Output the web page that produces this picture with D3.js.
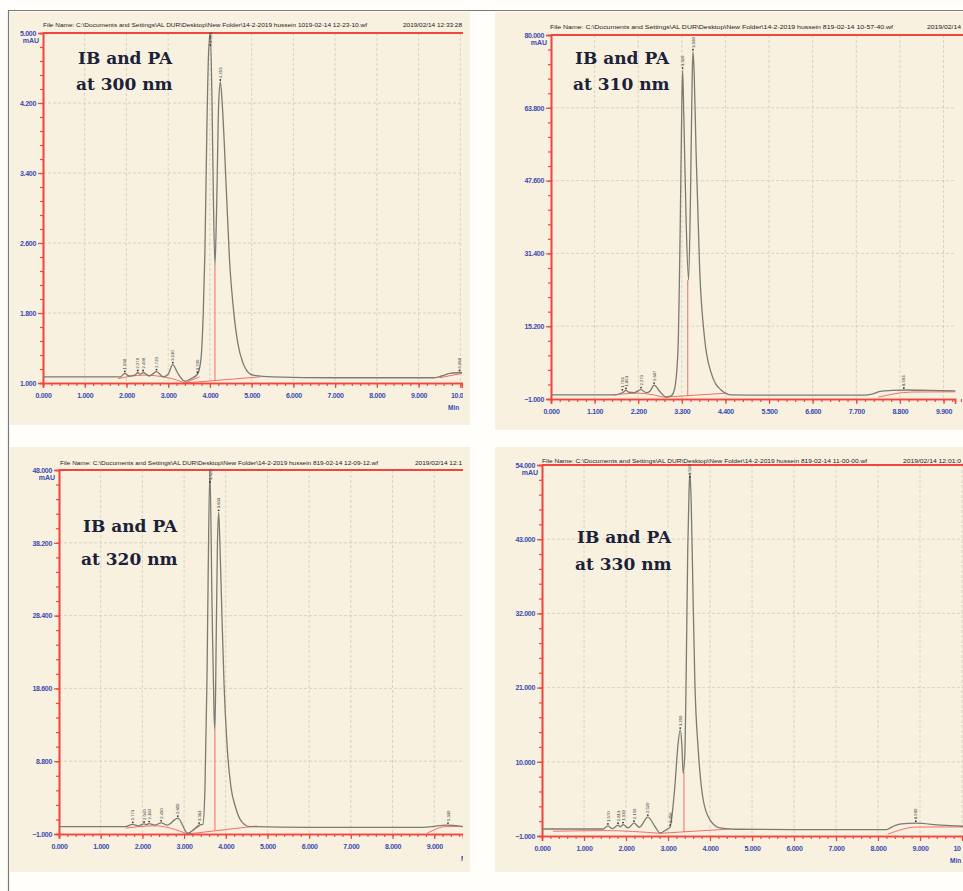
<!DOCTYPE html>
<html><head><meta charset="utf-8">
<script src="https://cdn.jsdelivr.net/npm/d3@7"></script>
<style>body{margin:0;background:#fff;} svg{display:block}</style>
</head><body><svg id="c" width="963" height="891"></svg>
<script>
// ---------------- DATA ----------------
const xTicks300 = [0,1,2,3,4,5,6,7,8,9,10];
const yTicks300 = [1.0,1.8,2.6,3.4,4.2,5.0];
const trace300 = [[0,1.07],[1.5,1.07],[1.85,1.07],[1.96,1.11],[2.06,1.08],[2.2,1.09],[2.27,1.12],[2.33,1.10],[2.4,1.12],[2.55,1.08],[2.72,1.13],[2.88,1.07],[3.0,1.1],[3.11,1.21],[3.22,1.12],[3.4,1.02],[3.55,1.05],[3.7,1.1],[3.78,1.25],[3.84,1.8],[3.88,2.5],[3.93,4.0],[3.97,4.8],[4.01,5.0],[4.05,4.2],[4.08,3.2],[4.12,2.35],[4.16,3.0],[4.21,4.2],[4.25,4.44],[4.3,4.15],[4.39,3.24],[4.47,2.4],[4.55,1.91],[4.67,1.45],[4.79,1.23],[4.9,1.13],[5.03,1.09],[5.5,1.07],[7,1.06],[9.35,1.06],[9.55,1.08],[9.75,1.11],[10.04,1.12]];
const peaks300 = [[1.96,1.11,"1.960"],[2.27,1.12,"2.270"],[2.40,1.12,"2.400"],[2.72,1.13,"2.720"],[3.11,1.21,"3.110"],[3.70,1.10,"3.700"],[4.01,5.0,"4.013"],[4.25,4.44,"4.253"],[9.98,1.12,"9.980"]];
const base300 = [[[1.8,1.05],[2.4,1.09],[3.0,1.06],[3.4,1.0]],[[3.4,1.0],[5.2,1.07]],[[3.4,1.0],[3.75,1.07]],[[9.5,1.06],[10.04,1.11]]];
const drop300 = [[4.12,2.35,1.03]];

const xTicks310 = [0,1.1,2.2,3.3,4.4,5.5,6.6,7.7,8.8,9.9];
const yTicks310 = [-1.0,15.2,31.4,47.6,63.8,80.0];
const trace310 = [[0,-0.1],[1.6,-0.1],[1.82,0.5],[1.89,0.9],[1.96,0.5],[2.1,0.4],[2.27,1.1],[2.4,0.4],[2.5,0.8],[2.6,2.1],[2.75,0.6],[2.9,-0.55],[3.03,-0.3],[3.11,1.0],[3.2,9.2],[3.26,38],[3.3,65],[3.32,72.2],[3.35,62],[3.41,38],[3.47,25.5],[3.52,45],[3.56,70],[3.58,76.3],[3.61,72],[3.66,53.7],[3.75,27.7],[3.87,12.8],[4.04,4.8],[4.29,1.0],[4.55,-0.1],[6,-0.15],[7.9,-0.15],[8.1,0.1],[8.3,0.7],[8.6,0.9],[9.0,1.0],[9.5,0.9],[10.2,0.8]];
const peaks310 = [[1.80,0.6,"1.793"],[1.89,0.9,"1.893"],[2.27,1.1,"2.273"],[2.60,2.1,"2.607"],[3.32,72.2,"3.320"],[3.58,76.3,"3.580"],[8.90,1.0,"8.903"]];
const base310 = [[[1.57,-0.1],[2.2,0.3],[2.84,-0.6]],[[2.84,-0.6],[4.43,0.3]],[[8.25,-0.6],[9.1,0.55],[10.2,0.6]]];
const drop310 = [[3.45,25.5,-0.3]];

const xTicks320 = [0,1,2,3,4,5,6,7,8,9,10];
const yTicks320 = [-1.0,8.8,18.6,28.4,38.2,48.0];
const trace320 = [[0,0.0],[1.6,0.0],[1.77,0.3],[1.9,0.1],[2.04,0.35],[2.1,0.25],[2.16,0.4],[2.3,0.2],[2.45,0.5],[2.6,0.2],[2.85,1.15],[3.09,-0.9],[3.25,-0.3],[3.36,0.2],[3.45,0.3],[3.5,5],[3.55,20],[3.58,35],[3.62,48],[3.67,30],[3.72,15],[3.74,13],[3.77,25],[3.80,38],[3.83,42.3],[3.86,38],[3.91,28],[3.96,19],[4.03,11],[4.12,5.5],[4.24,2.5],[4.39,0.6],[4.58,0.0],[6,-0.1],[8.75,-0.1],[8.95,0.0],[9.3,0.2],[9.69,0.0]];
const peaks320 = [[1.77,0.3,"1.773"],[2.04,0.35,"2.040"],[2.16,0.4,"2.160"],[2.45,0.5,"2.450"],[2.85,1.15,"2.850"],[3.36,0.2,"3.363"],[3.62,48,"3.620"],[3.83,42.3,"3.833"],[9.33,0.2,"9.330"]];
const base320 = [[[1.6,-0.2],[2.3,0.1],[3.08,-1.0]],[[3.08,-1.0],[3.38,0.1]],[[3.08,-1.0],[4.75,0.08]],[[8.83,-0.9],[9.3,0.0],[9.69,0.0]]];
const drop320 = [[3.74,13,-0.5]];

const xTicks330 = [0,1,2,3,4,5,6,7,8,9,10];
const yTicks330 = [-1.0,10.0,21.0,32.0,43.0,54.0];
const trace330 = [[0,0.04],[1.45,0.04],[1.57,0.5],[1.67,0.1],[1.81,0.6],[1.87,0.35],[1.93,0.7],[2.05,0.2],[2.19,0.9],[2.32,0.3],[2.52,1.8],[2.7,0.3],[2.81,-0.55],[2.95,-0.1],[3.05,0.33],[3.09,1.8],[3.17,6.9],[3.23,12],[3.29,14.7],[3.33,12.5],[3.36,8.3],[3.4,11],[3.43,21.7],[3.47,41.4],[3.5,50],[3.52,52.8],[3.55,49],[3.59,36.5],[3.64,21.7],[3.72,11.75],[3.84,4.3],[4.0,1.4],[4.24,0.2],[4.6,0.0],[6,-0.05],[8.2,-0.05],[8.35,0.4],[8.56,0.8],[8.9,0.9],[9.5,0.6],[10.2,0.4]];
const peaks330 = [[1.57,0.5,"1.570"],[1.81,0.6,"1.813"],[1.93,0.7,"1.930"],[2.19,0.9,"2.190"],[2.52,1.8,"2.520"],[3.05,0.33,"3.050"],[3.29,14.7,"3.290"],[3.52,52.8,"3.520"],[8.90,0.9,"8.900"]];
const base330 = [[[0.26,-0.3],[1.5,-0.2],[2.81,-0.6]],[[2.81,-0.6],[4.48,0.04]],[[8.24,-0.7],[8.93,0.33],[10.2,0.35]]];
const drop330 = [[3.38,8.5,-0.4]];

const titles = [["IB and PA","at 300 nm"],["IB and PA","at 310 nm"],["IB and PA","at 320 nm"],["IB and PA","at 330 nm"]];
const fileNames = [
 "File Name: C:\\Documents and Settings\\AL DUR\\Desktop\\New Folder\\14-2-2019 hussein 1019-02-14 12-23-10.wf",
 "File Name: C:\\Documents and Settings\\AL DUR\\Desktop\\New Folder\\14-2-2019 hussein 819-02-14 10-57-40.wf",
 "File Name: C:\\Documents and Settings\\AL DUR\\Desktop\\New Folder\\14-2-2019 hussein 819-02-14 12-09-12.wf",
 "File Name: C:\\Documents and Settings\\AL DUR\\Desktop\\New Folder\\14-2-2019 hussein 819-02-14 11-00-00.wf"];
const dates = ["2019/02/14 12:33:28","2019/02/14","2019/02/14 12:1","2019/02/14 12:01:0"];

// ---------------- LAYOUT ----------------
const panels = [
 {bg:[10,12,460,413], clip:[10,12,453,413], x:[43,462], xd:[0,10.04], y:[383,33], yd:[1,5], xt:xTicks300, yt:yTicks300, tr:trace300, pk:peaks300, bl:base300, dr:drop300, title:[78,64,90], fn:[43,27,324], dt:[403,59], minX:448, shortLast:false},
 {bg:[495,12,468,418], clip:[495,12,468,418], x:[551,955], xd:[0,10.19], y:[399,35], yd:[-1,80], xt:xTicks310, yt:yTicks310, tr:trace310, pk:peaks310, bl:base310, dr:drop310, title:[575,64,90], fn:[550,29,343], dt:[927,34], minX:null, shortLast:false},
 {bg:[10,447,460,425], clip:[10,447,453,425], x:[59,463], xd:[0,9.69], y:[834,470], yd:[-1,48], xt:xTicks320, yt:yTicks320, tr:trace320, pk:peaks320, bl:base320, dr:drop320, title:[83,532,565], fn:[60,465,318], dt:[415,47], minX:461, shortLast:false},
 {bg:[495,447,468,425], clip:[495,447,468,425], x:[542,970], xd:[0,10.19], y:[836,465], yd:[-1,54], xt:xTicks330, yt:yTicks330, tr:trace330, pk:peaks330, bl:base330, dr:drop330, title:[577,543,570], fn:[542,463,325], dt:[903,58], minX:950, shortLast:true}
];

const RED = "#f2453f", BLUE = "#3a4bb2", TRACE = "#7b7b72", GRID = "#d3cbb9";
const svg = d3.select("#c");
svg.append("rect").attr("width",963).attr("height",891).attr("fill","#fffefa");
const defs = svg.append("defs");

panels.forEach((p,i)=>{
  defs.append("clipPath").attr("id","cp"+i).append("rect")
    .attr("x",p.clip[0]).attr("y",p.clip[1]).attr("width",p.clip[2]).attr("height",p.clip[3]);
  svg.append("rect").attr("x",p.bg[0]).attr("y",p.bg[1]).attr("width",p.bg[2]).attr("height",p.bg[3]).attr("fill","#f8f1e0");
  const g = svg.append("g").attr("clip-path","url(#cp"+i+")");
  const xs = d3.scaleLinear().domain(p.xd).range(p.x);
  const ys = d3.scaleLinear().domain(p.yd).range(p.y);
  const x0 = p.x[0], x1 = p.x[1], yb = p.y[0], yt = p.y[1];

  // grid
  g.append("g").selectAll("line").data(p.xt.filter(d=>d>0)).join("line")
    .attr("x1",d=>xs(d)).attr("x2",d=>xs(d)).attr("y1",yt).attr("y2",yb)
    .attr("stroke",GRID).attr("stroke-width",0.8).attr("stroke-dasharray","3,2");
  g.append("g").selectAll("line").data(p.yt.slice(1,-1)).join("line")
    .attr("x1",x0).attr("x2",x1).attr("y1",d=>ys(d)).attr("y2",d=>ys(d))
    .attr("stroke",GRID).attr("stroke-width",0.8).attr("stroke-dasharray","3,2");

  // axes
  const ystep = p.yt[1]-p.yt[0];
  const yMinor = d3.range(0,26).map(k=>p.yd[0]+k*ystep/5).filter(v=>v<=p.yd[1]+1e-9);
  const yAx = d3.axisLeft(ys).tickValues(yMinor).tickSize(3).tickFormat("");
  const yAxG = g.append("g").attr("transform",`translate(${x0},0)`).call(yAx);
  const yMaj = d3.axisLeft(ys).tickValues(p.yt).tickSize(5).tickPadding(2).tickFormat(d3.format(".3f"));
  const yMajG = g.append("g").attr("transform",`translate(${x0},0)`).call(yMaj);
  const xstep = p.xt[1]-p.xt[0];
  const xMinor = d3.range(0,80).map(k=>k*xstep/5).filter(v=>v<=p.xd[1]+0.2);
  const xAx = d3.axisBottom(xs).tickValues(xMinor).tickSize(3).tickFormat("");
  const xAxG = g.append("g").attr("transform",`translate(0,${yb})`).call(xAx);
  const f3 = d3.format(".3f");
  const xMaj = d3.axisBottom(xs).tickValues(p.xt).tickSize(5).tickPadding(5)
    .tickFormat((d,k)=> (p.shortLast && k===p.xt.length-1) ? String(d) : f3(d));
  const xMajG = g.append("g").attr("transform",`translate(0,${yb})`).call(xMaj);
  if(p.shortLast) xMajG.selectAll(".tick:last-of-type text").attr("text-anchor","start").attr("dx",-9);
  [yAxG,yMajG,xAxG,xMajG].forEach(a=>{
    a.selectAll("path").attr("stroke",RED).attr("stroke-width",1.6);
    a.selectAll("line").attr("stroke",RED).attr("stroke-width",1.2);
    a.selectAll("text").attr("fill",BLUE).attr("font-family","Liberation Sans, Arial, sans-serif")
      .attr("font-size",7).attr("font-weight","bold").attr("letter-spacing",-0.3);
  });
  // top frame line
  g.append("line").attr("x1",x0).attr("x2",963).attr("y1",yt).attr("y2",yt).attr("stroke",RED).attr("stroke-width",1.8);
  // mAU
  g.append("text").attr("x",x0-4).attr("y",yt+10).attr("text-anchor","end").attr("fill",BLUE)
    .attr("font-family","Liberation Sans, Arial, sans-serif").attr("font-size",7).attr("font-weight","bold").text("mAU");
  if(p.minX!==null){
    g.append("text").attr("x",p.minX).attr("y",yb+27).attr("fill",BLUE)
      .attr("font-family","Liberation Sans, Arial, sans-serif").attr("font-size",6.5).attr("font-weight","bold").text("Min");
  }
  // header
  g.append("text").attr("x",p.fn[0]).attr("y",p.fn[1]).attr("textLength",p.fn[2]).attr("lengthAdjust","spacingAndGlyphs")
    .attr("font-family","Liberation Sans, Arial, sans-serif").attr("font-size",6).attr("fill","#222").text(fileNames[i]);
  g.append("text").attr("x",p.dt[0]).attr("y",p.fn[1]).attr("textLength",p.dt[1]).attr("lengthAdjust","spacingAndGlyphs")
    .attr("font-family","Liberation Sans, Arial, sans-serif").attr("font-size",6).attr("fill","#222").text(dates[i]);

  // integration baselines & drop lines
  const line = d3.line().x(d=>xs(d[0])).y(d=>ys(d[1]));
  g.append("g").selectAll("path").data(p.bl).join("path").attr("d",line.curve(d3.curveMonotoneX))
    .attr("fill","none").attr("stroke",RED).attr("stroke-width",0.9).attr("opacity",0.85);
  g.append("g").selectAll("line").data(p.dr).join("line")
    .attr("x1",d=>xs(d[0])).attr("x2",d=>xs(d[0])).attr("y1",d=>ys(d[1])).attr("y2",d=>ys(d[2]))
    .attr("stroke",RED).attr("stroke-width",0.9).attr("opacity",0.85);

  // trace
  g.append("path").datum(p.tr).attr("d",d3.line().x(d=>xs(d[0])).y(d=>ys(d[1])).curve(d3.curveMonotoneX))
    .attr("fill","none").attr("stroke",TRACE).attr("stroke-width",1.3);

  // peak labels
  const pk = g.append("g").selectAll("g").data(p.pk).join("g")
    .attr("transform",d=>`translate(${xs(d[0])},${Math.max(ys(d[1]),yt+14)-2})`);
  pk.append("circle").attr("r",0.9).attr("fill","#333");
  pk.append("text").attr("transform","rotate(-90)").attr("x",2).attr("y",1.6)
    .attr("font-family","Liberation Sans, Arial, sans-serif").attr("font-size",4.2).attr("fill","#333").text(d=>d[2]);

  // titles
  const t = svg.append("g").attr("font-family","DejaVu Serif, serif").attr("font-weight","bold").attr("font-size",17).attr("fill","#1b2238");
  t.append("text").attr("x",p.title[0]).attr("y",p.title[1]).text(titles[i][0]);
  t.append("text").attr("x",p.title[0]-2).attr("y",p.title[2]).text(titles[i][1]);
});

// outer frame
svg.append("line").attr("x1",8).attr("x2",963).attr("y1",10.5).attr("y2",10.5).attr("stroke","#7a7a7a").attr("stroke-width",1.2);
svg.append("line").attr("x1",8.5).attr("x2",8.5).attr("y1",10).attr("y2",891).attr("stroke","#7a7a7a").attr("stroke-width",1.2);
</script></body></html>
